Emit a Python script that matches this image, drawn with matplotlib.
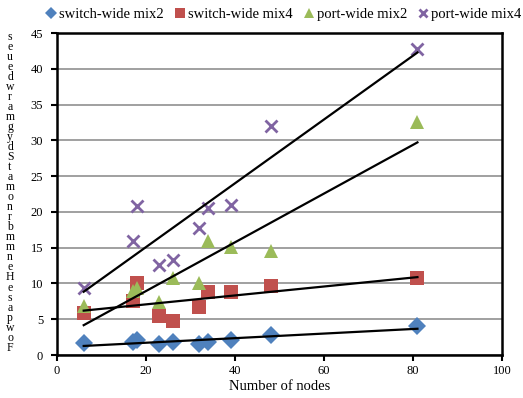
import numpy as np
import matplotlib
matplotlib.use("Agg")
import matplotlib.pyplot as plt

# --- data ---------------------------------------------------------------------------
nodes = [6, 17, 18, 23, 26, 32, 34, 39, 48, 81]
switch_mix2 = [1.7, 1.8, 2.1, 1.5, 1.8, 1.5, 1.8, 2.1, 2.8, 4.0]
switch_mix4 = [5.9, 7.6, 10.0, 5.5, 4.8, 6.7, 8.8, 8.8, 9.6, 10.8]
port_mix2 = [6.9, 8.9, 9.4, 7.4, 10.7, 10.1, 16.0, 15.1, 14.6, 32.5]
port_mix4 = [9.3, 16.0, 20.8, 12.6, 13.3, 17.8, 20.5, 21.0, 32.0, 42.8]

labels = ["switch-wide mix2", "switch-wide mix4", "port-wide mix2", "port-wide mix4"]
ylabel_chars = "seuedwramgydStamonrbmmneHesapwoF"

plt.rcParams["font.family"] = "Liberation Serif"

fig = plt.figure(figsize=(5.23, 3.98), dpi=100)
ax = fig.add_axes([57 / 523, 1 - 355 / 398, (502 - 57) / 523, (355 - 33) / 398])

styles = [
    dict(marker="D", color="#4F81BD", ms=9, mew=0),
    dict(marker="s", color="#C0504D", ms=9.5, mew=0),
    dict(marker="^", color="#9BBB59", ms=10.5, mew=0),
    dict(marker="x", color="#8064A2", ms=9, mew=2),
]
series = [switch_mix2, switch_mix4, port_mix2, port_mix4]

x = np.array(nodes, dtype=float)
handles = []
for ys, st, lab in zip(series, styles, labels):
    h, = ax.plot(x, ys, ls="none", label=lab, zorder=3, **st)
    handles.append(h)

# linear trend lines over the data range
xs = np.array([x.min(), x.max()])
for ys in series:
    k, b = np.polyfit(x, ys, 1)
    ax.plot(xs, k * xs + b, color="black", lw=1.6, zorder=4)

ax.set_xlim(0, 100)
ax.set_ylim(0, 45)
ax.set_xticks(np.arange(0, 101, 20))
ax.set_yticks(np.arange(0, 46, 5))
ax.yaxis.grid(True, color="#999999", lw=1.3)
ax.set_axisbelow(True)
for sp in ax.spines.values():
    sp.set_linewidth(1.8)
ax.tick_params(direction="out", length=4, width=1.5, labelsize=9, pad=3)
ax.tick_params(axis="y", pad=6)
ax.set_xlabel("Number of nodes", fontsize=10.5, labelpad=2)

# stacked (upright, overlapping) y-axis label as in the source
fig.text(10 / 523, 1 - 31 / 398, "\n".join(ylabel_chars), ha="center", va="top",
         fontsize=8.5, linespacing=0.78)

fig.legend(handles, labels, loc="upper right", bbox_to_anchor=(1.012, 1.0), ncol=4,
           frameon=False, fontsize=10.5, handlelength=0.7, handletextpad=0.2,
           columnspacing=0.75, borderaxespad=0.15, markerscale=0.7)

fig.savefig("out.png", dpi=100)
